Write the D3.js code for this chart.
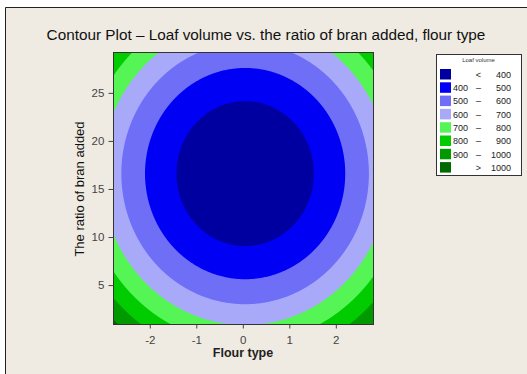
<!DOCTYPE html>
<html>
<head>
<meta charset="utf-8">
<script src="https://cdn.jsdelivr.net/npm/d3@7"></script>
<style>
  body { margin:0; background:#fff; }
  svg text { font-family: "Liberation Sans", Arial, sans-serif; }
</style>
</head>
<body>
<div class="chart"></div>
<script>
// axis ranges
const flourDomain = [-2.78, 2.81];
const branDomain = [0.9, 29.2];
const flourTicks = [-2, -1, 0, 1, 2];
const branTicks = [5, 10, 15, 20, 25];

// fitted surface: volume = c0 + cx*(flour-x0)^2 + cy*(bran-y0)^2
const surfaceCenter = [0.05, 16.6];
const surfaceCoef = [311, 40.8, 1.565];

// contour levels and colours
const levels = [400, 500, 600, 700, 800, 900, 1000];
const levelColors = ['#0000a0', '#0000f5', '#6e6ef7', '#a9a9fa', '#55f555', '#00cc00', '#009a00', '#006a00'];
const legendLow = ['', '400', '500', '600', '700', '800', '900', ''];
const legendSep = ['<', '\u2013', '\u2013', '\u2013', '\u2013', '\u2013', '\u2013', '>'];
const legendHigh = ['400', '500', '600', '700', '800', '900', '1000', '1000'];

const W = 527, H = 374;
const plot = {left:113.5, top:52.5, right:373.5, bottom:324.5};
const pw = plot.right - plot.left, ph = plot.bottom - plot.top;

const svg = d3.select('.chart').append('svg').attr('width', W).attr('height', H);

// panel background + cropped frame line
svg.append('rect').attr('x', 5).attr('y', 7).attr('width', W).attr('height', H).attr('fill', '#efebe2');
svg.append('path').attr('d', `M5.5,${H} V7.5 H${W}`).attr('fill', 'none').attr('stroke', '#222').attr('stroke-width', 1);

const x = d3.scaleLinear(flourDomain, [0, pw]);
const y = d3.scaleLinear(branDomain, [ph, 0]);

// grid, one value per pixel
const nx = Math.round(pw), ny = Math.round(ph);
const values = new Array(nx * ny);
for (let j = 0; j < ny; j++) {
  const b = y.invert(j + 0.5);
  for (let i = 0; i < nx; i++) {
    const f = x.invert(i + 0.5);
    values[j * nx + i] = surfaceCoef[0] + surfaceCoef[1] * (f - surfaceCenter[0]) ** 2 + surfaceCoef[2] * (b - surfaceCenter[1]) ** 2;
  }
}
const contours = d3.contours().size([nx, ny]).thresholds(levels)(values);

const g = svg.append('g').attr('transform', `translate(${plot.left},${plot.top})`);
g.append('clipPath').attr('id', 'clip').append('rect').attr('width', pw).attr('height', ph);
const cg = g.append('g').attr('clip-path', 'url(#clip)');
cg.append('rect').attr('width', pw).attr('height', ph).attr('fill', levelColors[0]);
cg.selectAll('path.band').data(contours).join('path')
  .attr('class', 'band')
  .attr('d', d3.geoPath(d3.geoIdentity().scale(pw / nx)))
  .attr('fill', (d, i) => levelColors[i + 1]);

g.append('rect').attr('width', pw).attr('height', ph).attr('fill', 'none').attr('stroke', '#333').attr('stroke-width', 1);

// axes
const xAxis = d3.axisBottom(x).tickValues(flourTicks).tickFormat(d => String(d)).tickSize(4).tickSizeOuter(0);
const xAxisDraw = g.append('g').attr('transform', `translate(0,${ph})`).call(xAxis);
const yAxis = d3.axisLeft(y).tickValues(branTicks).tickFormat(d => String(d)).tickSize(5).tickSizeOuter(0);
const yAxisDraw = g.append('g').call(yAxis);
[xAxisDraw, yAxisDraw].forEach(a => {
  a.select('.domain').remove();
  a.selectAll('line').attr('stroke', '#444');
  a.selectAll('text').attr('fill', '#444').style('font-size', '11.5px');
});
xAxisDraw.selectAll('text').attr('dy', '1.05em');
yAxisDraw.selectAll('text').attr('dx', '-0.1em');

// title & axis labels
svg.append('text').attr('x', 266).attr('y', 40).attr('text-anchor', 'middle')
  .style('font-size', '15.3px').attr('fill', '#111')
  .text('Contour Plot \u2013 Loaf volume vs. the ratio of bran added, flour type');
svg.append('text').attr('x', 243).attr('y', 357).attr('text-anchor', 'middle')
  .style('font-size', '12.5px').style('font-weight', 'bold').attr('fill', '#222').text('Flour type');
svg.append('text').attr('transform', 'translate(84,189) rotate(-90)').attr('text-anchor', 'middle')
  .style('font-size', '13px').attr('fill', '#111').text('The ratio of bran added');

// legend
const lg = svg.append('g').attr('transform', 'translate(436.5,54.5)');
lg.append('rect').attr('width', 85).attr('height', 121).attr('fill', '#fff').attr('stroke', '#333');
lg.append('text').attr('x', 42).attr('y', 7.5).attr('text-anchor', 'middle')
  .style('font-size', '6px').attr('fill', '#333').text('Loaf volume');
const rows = lg.selectAll('g.row').data(levelColors).join('g')
  .attr('class', 'row').attr('transform', (d, i) => `translate(0,${14.5 + i * 13.3})`);
rows.append('rect').attr('x', 3.5).attr('width', 11).attr('height', 10.5).attr('fill', d => d);
rows.append('text').attr('x', 31.5).attr('y', 8.8).attr('text-anchor', 'end')
  .style('font-size', '9px').attr('fill', '#222').text((d, i) => legendLow[i]);
rows.append('text').attr('x', 42).attr('y', 8.8).attr('text-anchor', 'middle')
  .style('font-size', '9px').attr('fill', '#222').text((d, i) => legendSep[i]);
rows.append('text').attr('x', 74.5).attr('y', 8.8).attr('text-anchor', 'end')
  .style('font-size', '9px').attr('fill', '#222').text((d, i) => legendHigh[i]);
</script>
</body>
</html>
